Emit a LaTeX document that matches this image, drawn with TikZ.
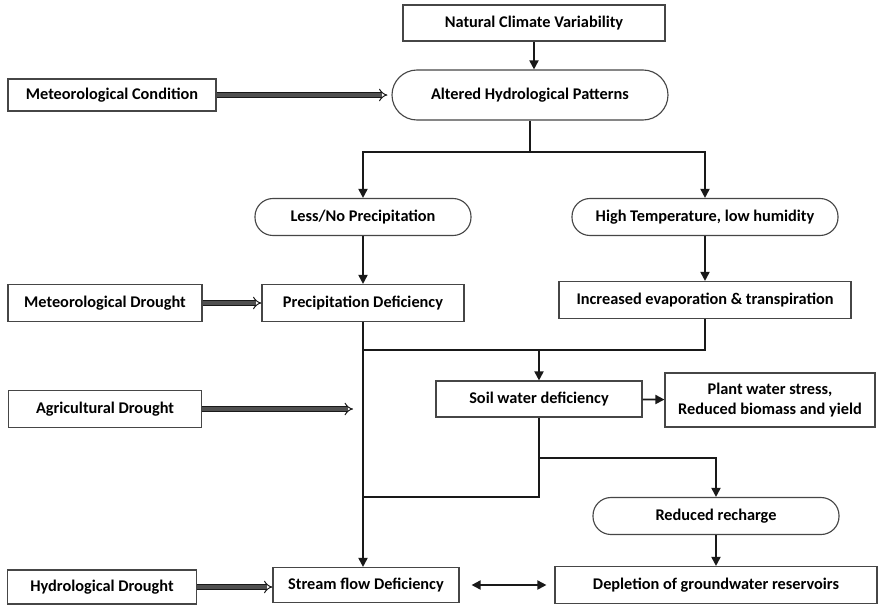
\documentclass[tikz,border=0pt]{standalone}
\usepackage{fontspec}
\setmainfont{Carlito}
\usepackage{tikz}
\usetikzlibrary{arrows.meta, positioning, calc}
\definecolor{mydark}{RGB}{25,25,25}
\definecolor{myedge}{RGB}{70,70,70}
\definecolor{mybar}{RGB}{80,80,80}
\tikzset{
  block/.style={rectangle, draw=myedge, fill=white, align=center,
    font=\bfseries\fontsize{11.6}{14}\selectfont, line width=0.8pt, inner sep=2pt},
  pill/.style={rectangle, draw=myedge, fill=white, align=center,
    font=\bfseries\fontsize{11.6}{14}\selectfont, line width=0.8pt, inner sep=2pt},
  arrow/.style={-{Triangle[length=6.5pt, width=6.5pt]}, line width=1.3pt, color=mydark},
  both/.style={{Triangle[length=6.5pt, width=6.5pt]}-{Triangle[length=6.5pt, width=6.5pt]}, line width=1.3pt, color=mydark},
  line/.style={line width=1.3pt, color=mydark},
  fatarrow/.style={draw=mydark, double=mybar, double distance=2.4pt, line width=0.7pt,
    -{Implies[length=3.5pt]}}
}

\begin{document}
\begin{tikzpicture}[x=0.025cm, y=-0.025cm]
  \useasboundingbox (0,0) rectangle (880,607);

  % top of the chain
  \node[block, minimum width=262*0.025cm, minimum height=36*0.025cm] (natural) at (534,23) {Natural Climate Variability};
  \node[pill, rounded corners=25*0.025cm, minimum width=276*0.025cm, minimum height=50*0.025cm] (altered) at (530,95) {Altered Hydrological Patterns};
  \node[pill, rounded corners=18*0.025cm, minimum width=216*0.025cm, minimum height=37*0.025cm] (lessno) at (363,217) {Less/No Precipitation};
  \node[pill, rounded corners=18*0.025cm, minimum width=266*0.025cm, minimum height=37*0.025cm] (hightemp) at (705,217) {High Temperature, low humidity};
  \node[block, minimum width=202*0.025cm, minimum height=37*0.025cm] (precip) at (363,303) {Precipitation Deficiency};
  \node[block, minimum width=292*0.025cm, minimum height=37*0.025cm] (evap) at (705,300) {Increased evaporation \& transpiration};

  % middle and bottom
  \node[block, minimum width=206*0.025cm, minimum height=36*0.025cm] (soil) at (539,399) {Soil water deficiency};
  \node[block, minimum width=210*0.025cm, minimum height=54*0.025cm] (plant) at (770,400) {Plant water stress,\\Reduced biomass and yield};
  \node[pill, rounded corners=18*0.025cm, minimum width=246*0.025cm, minimum height=37*0.025cm] (recharge) at (716,516) {Reduced recharge};
  \node[block, minimum width=186*0.025cm, minimum height=35*0.025cm] (stream) at (366,585) {Stream flow Deficiency};
  \node[block, minimum width=322*0.025cm, minimum height=37*0.025cm] (deplete) at (716,585) {Depletion of groundwater reservoirs};

  % drought types on the left
  \node[block, minimum width=208*0.025cm, minimum height=32*0.025cm] (metcond) at (112,95) {Meteorological Condition};
  \node[block, minimum width=194*0.025cm, minimum height=37*0.025cm] (metdrought) at (105,303) {Meteorological Drought};
  \node[block, minimum width=193*0.025cm, minimum height=37*0.025cm] (agri) at (105,409) {Agricultural Drought};
  \node[block, minimum width=189*0.025cm, minimum height=34*0.025cm] (hydro) at (102,587) {Hydrological Drought};

  \coordinate (split) at (530,152);
  \coordinate (join) at (363,350);
  \coordinate (fork) at (539,458);
  \coordinate (merge) at (363,497);
  \coordinate (agritip) at (353,409);

  \draw[arrow] (natural) -- (natural |- altered.north);
  \draw[line] (altered) -- (split);
  \draw[arrow] (split) -| (lessno);
  \draw[arrow] (split) -| (hightemp);
  \draw[arrow] (lessno) -- (precip);
  \draw[arrow] (hightemp) -- (evap);
  \draw[arrow] (precip.south -| join) -- (stream.north -| join);
  \draw[line] (evap.south -| hightemp) |- (join);
  \draw[arrow] (soil |- join) -- (soil);
  \draw[arrow] (soil) -- (plant);
  \draw[line] (soil) |- (merge);
  \draw[arrow] (fork) -| (recharge);
  \draw[arrow] (recharge) -- (recharge |- deplete.north);
  \draw[both] ([xshift=12*0.025cm]stream.east) -- ([xshift=-8*0.025cm]deplete.west);

  \draw[fatarrow] (metcond) -- ([xshift=-4*0.025cm]altered.west);
  \draw[fatarrow] (metdrought) -- (precip);
  \draw[fatarrow] (agri) -- (agritip);
  \draw[fatarrow] (hydro.east) -- (hydro.east -| stream.west);
\end{tikzpicture}
\end{document}
